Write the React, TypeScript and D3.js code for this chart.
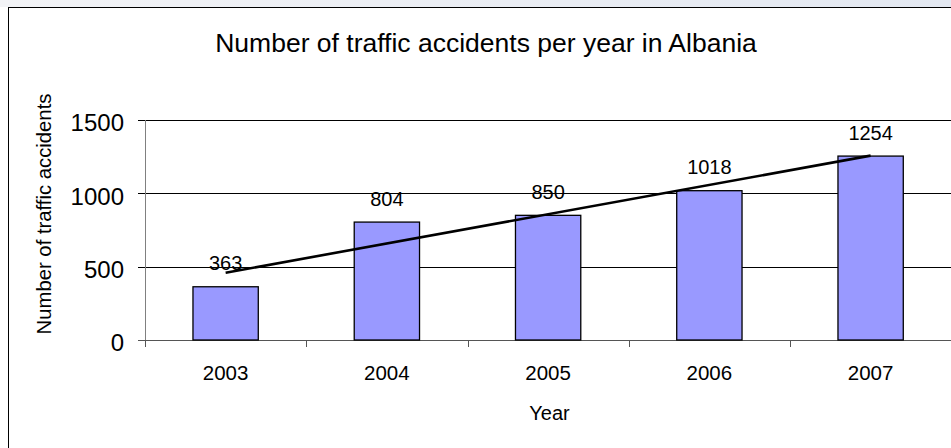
import React from "react";
import * as d3 from "d3";

const categories = ["2003", "2004", "2005", "2006", "2007"];
const accidents = [363, 804, 850, 1018, 1254];
const yTicks = [0, 500, 1000, 1500];
const title = "Number of traffic accidents per year in Albania";
const xTitle = "Year";
const yTitle = "Number of traffic accidents";

const W = 951;
const H = 448;
const FONT = "'Liberation Sans', Arial, sans-serif";

export default function App() {
  const left = 145;
  const right = 951.25;
  const top = 120;
  const bottom = 340;

  const x = d3.scaleBand<string>().domain(categories).range([left, right]).paddingInner(0.595).paddingOuter(0.2975);
  const y = d3.scaleLinear().domain([0, 1500]).range([bottom, top]);

  // linear least-squares trendline
  const n = accidents.length;
  const xs = accidents.map((_, i) => i);
  const mx = d3.mean(xs) as number;
  const my = d3.mean(accidents) as number;
  const slope = d3.sum(xs.map((xi, i) => (xi - mx) * (accidents[i] - my))) / d3.sum(xs.map((xi) => (xi - mx) ** 2));
  const intercept = my - slope * mx;
  const cx = (c: string) => (x(c) as number) + x.bandwidth() / 2;
  const trend = d3.line<number>().x((d) => cx(categories[d])).y((d) => y(intercept + slope * d));
  const trendPts = [0, n - 1];

  const step = x.step();
  const tickXs = d3.range(categories.length + 1).map((i) => left + i * step);

  return (
    <svg width={W} height={H} style={{ position: "absolute", left: 0, top: 0, background: "#fff" }} fontFamily={FONT}>
      <defs>
        <linearGradient id="topstrip" x1="0" x2="1" y1="0" y2="0">
          <stop offset="0" stopColor="#f2f3f6" />
          <stop offset="1" stopColor="#e3e8f1" />
        </linearGradient>
      </defs>
      <rect x={0} y={0} width={W} height={H} fill="#fff" />
      <rect x={0} y={0} width={W} height={7} fill="url(#topstrip)" />
      {/* outer frame */}
      <line x1={8.5} y1={7.5} x2={8.5} y2={H} stroke="#000" strokeWidth={1} />
      <line x1={8} y1={7.5} x2={W} y2={7.5} stroke="#000" strokeWidth={1} />

      {/* title */}
      <text x={486} y={51.5} textAnchor="middle" fontSize={26.5} fill="#000">{title}</text>

      {/* gridlines */}
      {yTicks.filter((t) => t > 0).map((t) => (
        <line key={t} x1={138} x2={W} y1={Math.round(y(t)) + 0.5} y2={Math.round(y(t)) + 0.5} stroke="#000" strokeWidth={1} />
      ))}

      {/* y axis line */}
      <line x1={145.5} x2={145.5} y1={top} y2={347} stroke="#808080" strokeWidth={1} />
      {/* x axis line */}
      <line x1={138} x2={W} y1={340.5} y2={340.5} stroke="#555" strokeWidth={1} />
      {tickXs.map((tx, i) => (
        <line key={i} x1={Math.round(tx) + 0.5} x2={Math.round(tx) + 0.5} y1={340} y2={347} stroke="#555" strokeWidth={1} />
      ))}

      {/* y tick labels */}
      {yTicks.map((t) => (
        <text key={t} x={124} y={y(t) + 3} dy="0.35em" textAnchor="end" fontSize={24} fill="#000">{t}</text>
      ))}

      {/* bars */}
      {categories.map((c, i) => (
        <rect key={c} x={x(c)} y={y(accidents[i])} width={x.bandwidth()} height={bottom - y(accidents[i])} fill="#9999ff" stroke="#000" strokeWidth={1.3} />
      ))}

      {/* trendline */}
      <path d={trend(trendPts) || ""} fill="none" stroke="#000" strokeWidth={2.6} />

      {/* data labels */}
      {categories.map((c, i) => (
        <text key={c} x={cx(c)} y={y(accidents[i]) - 16.5} textAnchor="middle" fontSize={20} fill="#000">{accidents[i]}</text>
      ))}

      {/* category labels */}
      {categories.map((c) => (
        <text key={c} x={cx(c)} y={380} textAnchor="middle" fontSize={20.5} fill="#000">{c}</text>
      ))}

      {/* axis titles */}
      <text x={549.5} y={419.5} textAnchor="middle" fontSize={20} fill="#000">{xTitle}</text>
      <text transform={`translate(51, 214) rotate(-90)`} textAnchor="middle" fontSize={20.3} fill="#000">{yTitle}</text>
    </svg>
  );
}
